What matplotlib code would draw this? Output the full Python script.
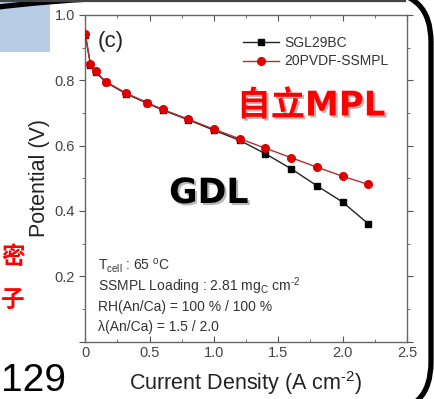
import matplotlib
matplotlib.use('Agg')
import matplotlib.pyplot as plt
import matplotlib.patheffects as pe
from matplotlib.patches import FancyBboxPatch, Rectangle
from matplotlib.ticker import MultipleLocator, FuncFormatter

plt.rcParams['font.family'] = ['Liberation Sans', 'DejaVu Sans']
plt.rcParams['mathtext.default'] = 'regular'

# polarization data
current = [0, 0.04, 0.08, 0.16, 0.32, 0.48, 0.6, 0.8, 1.0, 1.2, 1.4, 1.6, 1.8, 2.0, 2.2]
v_sgl = [0.940, 0.848, 0.825, 0.794, 0.758, 0.730, 0.709, 0.679, 0.647,
         0.616, 0.575, 0.529, 0.477, 0.427, 0.360]
v_ssmpl = [0.942, 0.850, 0.827, 0.796, 0.760, 0.732, 0.711, 0.681, 0.650,
           0.621, 0.592, 0.563, 0.534, 0.506, 0.481]
labels = ['SGL29BC', '20PVDF-SSMPL']
conditions = ['T$_{cell}$ : 65 $^{o}$C',
              'SSMPL Loading : 2.81 mg$_{C}$ cm$^{\u2010 2}$',
              'RH(An/Ca) = 100 % / 100 %',
              'λ(An/Ca) = 1.5 / 2.0']

W, H = 434, 399
fig = plt.figure(figsize=(W / 100, H / 100), dpi=100)
ax = fig.add_axes([85.3 / W, 1 - 341.5 / H, 321.7 / W, 326.5 / H])

ax.plot(current, v_sgl, color='#222222', lw=1, marker='s', ms=5,
        mfc='black', mec='black', label=labels[0], zorder=3)
ax.plot(current, v_ssmpl, color='#b03030', lw=1, marker='o', ms=5.5,
        mfc='#dd0000', mec='#dd0000', label=labels[1], zorder=4)

ax.set_xlim(0, 2.5)
ax.set_ylim(0, 1.0)
ax.xaxis.set_major_locator(MultipleLocator(0.5))
ax.xaxis.set_minor_locator(MultipleLocator(0.25))
ax.yaxis.set_major_locator(MultipleLocator(0.2))
ax.yaxis.set_minor_locator(MultipleLocator(0.1))
ax.xaxis.set_major_formatter(FuncFormatter(lambda v, p: '0' if v == 0 else f'{v:.1f}'))
ax.yaxis.set_major_formatter(FuncFormatter(lambda v, p: '' if v == 0 else f'{v:.1f}'))

ax.tick_params(axis='x', which='both', direction='in', top=True, colors='#555555',
               labelcolor='#444444', labelsize=10.5)
ax.tick_params(axis='y', which='both', direction='out', right=True, colors='#555555',
               labelcolor='#444444', labelsize=10.5)
ax.tick_params(which='major', length=4)
ax.tick_params(which='minor', length=2.5)
for s in ax.spines.values():
    s.set_color('#666666')
    s.set_linewidth(1)

ax.set_xlabel('Current Density (A cm$^{\u2010 2}$)', fontsize=15.5, color='#222222', labelpad=6)
ax.set_ylabel('Potential (V)', fontsize=15.5, color='#222222', labelpad=3)

ax.legend(loc='upper left', bbox_to_anchor=(0.49, 0.935), frameon=False, fontsize=10,
          handlelength=2.6, handletextpad=0.4, labelspacing=0.3, borderpad=0,
          borderaxespad=0, labelcolor='#333333')

ax.text(0.037, 0.92, '(c)', transform=ax.transAxes, fontsize=16, va='center', color='#222222')
for i, line in enumerate(conditions):
    ax.text(0.04, 0.231 - i * 0.062, line, transform=ax.transAxes, fontsize=10,
            va='center', color='#333333')

shadow = [pe.SimplePatchShadow(offset=(1.5, -1.5), shadow_rgbFace='#888888', alpha=0.6), pe.Normal()]
fig.text(311 / W, 1 - 106 / H, '自立MPL', fontsize=24.5, fontweight='bold', color='#ff0000',
         family=['DejaVu Sans', 'Noto Sans CJK TC'], ha='center', va='center', path_effects=shadow)
fig.text(209 / W, 1 - 193 / H, 'GDL', fontsize=25, fontweight='bold', color='black',
         family=['DejaVu Sans'], ha='center', va='center', path_effects=shadow)

# slide decorations around the chart
fig.text(1 / W, 1 - 257 / H, '密', fontsize=17, fontweight='bold', color='#ff0000',
         family=['Noto Sans CJK TC'], ha='left', va='center')
fig.text(1 / W, 1 - 300 / H, '子', fontsize=17, fontweight='bold', color='#ff0000',
         family=['Noto Sans CJK TC'], ha='left', va='center')
fig.text(1 / W, 1 - 381 / H, '129', fontsize=28, color='black', ha='left', va='center')

fig.patches.append(Rectangle((0, 1 - 52 / H), 50 / W, 50 / H, transform=fig.transFigure,
                             facecolor='#b8cce4', edgecolor='none', zorder=0))
fig.add_artist(plt.Line2D([0, 405 / W], [1 - 1 / H, 1 - 1 / H], transform=fig.transFigure,
                          color='#444444', lw=1.6))
# rounded slide frame, in display pixels
frame = FancyBboxPatch((-100, -13), 531, 420, boxstyle='round,pad=0,rounding_size=50',
                       transform=None, facecolor='none', edgecolor='black', lw=3.8)
fig.add_artist(frame)

fig.savefig('out.png', dpi=100)
